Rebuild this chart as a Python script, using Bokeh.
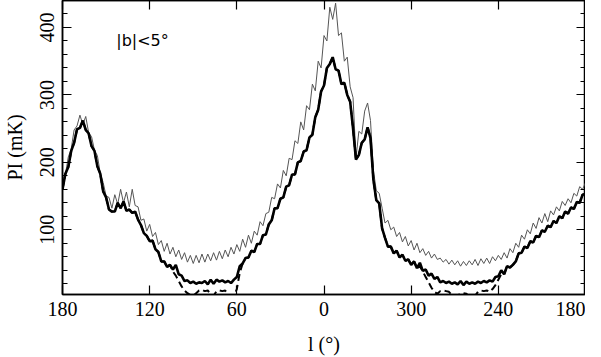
from bokeh.plotting import figure
from bokeh.models import Range1d, LinearAxis, FixedTicker, Label, CustomJSTickFormatter
from bokeh.embed import file_html
from bokeh.resources import INLINE

# Galactic longitude, plotted from 180 through 0 to 180 (values > 180 stored as l-360)
lon = list(range(180, -182, -2))

# Thin grey curve (mK)
pi_grey = [
    170, 182, 208, 220, 248, 254, 270, 256, 268, 244,
    238, 218, 210, 184, 170, 150, 148, 132, 152, 138,
    160, 140, 156, 134, 160, 136, 134, 114, 116, 98,
    108, 90, 96, 78, 84, 68, 80, 64, 74, 60,
    70, 56, 66, 52, 62, 50, 62, 51, 64, 52,
    64, 54, 66, 55, 68, 57, 70, 60, 74, 64,
    78, 68, 86, 74, 92, 80, 98, 92, 112, 106,
    124, 126, 148, 146, 168, 162, 188, 180, 206, 204,
    232, 228, 260, 248, 284, 278, 316, 306, 350, 340,
    388, 380, 430, 412, 436, 388, 392, 350, 356, 312,
    296, 206, 246, 242, 276, 288, 262, 188, 158, 154,
    132, 110, 114, 100, 104, 90, 96, 82, 90, 76,
    84, 70, 80, 66, 72, 62, 68, 58, 64, 56,
    58, 52, 56, 49, 55, 48, 54, 46, 53, 47,
    54, 48, 56, 47, 57, 50, 58, 50, 60, 54,
    62, 56, 66, 58, 72, 66, 80, 74, 92, 86,
    100, 94, 110, 102, 118, 110, 124, 112, 128, 122,
    134, 128, 142, 136, 146, 140, 154, 150, 164, 160,
    170,
]

# Thick black curve (mK)
pi_black = [
    160, 183, 193, 217, 229, 249, 251, 262, 248, 243,
    224, 217, 194, 183, 157, 148, 130, 127, 127, 140,
    132, 142, 128, 130, 125, 127, 115, 107, 95, 91,
    83, 84, 71, 67, 53, 53, 45, 48, 41, 48,
    34, 32, 24, 25, 21, 23, 20, 22, 21, 24,
    19, 26, 20, 26, 23, 25, 22, 24, 21, 26,
    30, 46, 50, 58, 59, 69, 67, 79, 79, 92,
    93, 108, 114, 132, 132, 146, 148, 164, 166, 182,
    182, 200, 202, 216, 218, 237, 241, 267, 278, 305,
    314, 340, 346, 356, 338, 336, 316, 318, 300, 290,
    250, 204, 211, 229, 234, 252, 236, 174, 144, 139,
    102, 88, 75, 75, 65, 69, 59, 63, 54, 56,
    48, 53, 43, 51, 39, 41, 32, 35, 27, 30,
    22, 24, 21, 23, 20, 22, 19, 24, 18, 23,
    20, 22, 20, 23, 21, 24, 22, 25, 23, 30,
    31, 40, 34, 46, 44, 48, 53, 65, 66, 75,
    73, 83, 81, 91, 89, 99, 97, 106, 104, 113,
    110, 120, 117, 127, 124, 133, 131, 141, 140, 152,
    153,
]

# Dashed black curve (mK)
pi_dashed = [
    160, 183, 193, 217, 229, 249, 251, 262, 248, 243,
    224, 217, 194, 183, 157, 148, 130, 127, 127, 140,
    132, 142, 128, 130, 125, 127, 115, 107, 95, 91,
    83, 84, 71, 67, 53, 53, 45, 48, 38, 32,
    24, 16, 10, 6, 3, 2, 6, 10, 11, 9,
    10, 4, 2, 9, 10, 9, 10, 3, 1, 2,
    12, 36, 50, 58, 59, 69, 67, 79, 79, 92,
    93, 108, 114, 132, 132, 146, 148, 164, 166, 182,
    182, 200, 202, 216, 218, 237, 241, 267, 278, 305,
    314, 340, 346, 356, 338, 336, 316, 318, 300, 290,
    250, 204, 211, 229, 234, 252, 236, 174, 144, 139,
    102, 88, 75, 75, 65, 69, 59, 63, 54, 56,
    48, 53, 43, 46, 38, 30, 22, 14, 8, 5,
    9, 10, 9, 8, 3, 1, 2, 6, 6, 5,
    1, 0, 2, 8, 10, 9, 10, 8, 12, 18,
    26, 34, 34, 46, 44, 48, 53, 65, 66, 75,
    73, 83, 81, 91, 89, 99, 97, 106, 104, 113,
    110, 120, 117, 127, 124, 133, 131, 141, 140, 152,
    153,
]

x_ticks = [180, 120, 60, 0, -60, -120, -180]
x_tick_labels = ["180", "120", "60", "0", "300", "240", "180"]
y_ticks = [100, 200, 300, 400]
y_minor = list(range(20, 440, 20))

p = figure(width=585, height=357, output_backend="svg", toolbar_location=None,
           x_range=Range1d(180, -180), y_range=Range1d(4, 440),
           min_border_left=52, min_border_right=0, min_border_top=0,
           min_border_bottom=60)
p.xgrid.visible = False
p.ygrid.visible = False
p.outline_line_color = "black"
p.outline_line_width = 1.5
p.background_fill_color = "white"

p.line(lon, pi_grey, line_color="#555555", line_width=1)
p.line(lon, pi_dashed, line_color="black", line_width=2, line_dash="7 4")
p.line(lon, pi_black, line_color="black", line_width=2.6)

lbl_font = "Liberation Serif"

xa = p.xaxis[0]
xa.ticker = FixedTicker(ticks=x_ticks, minor_ticks=[])
xa.major_label_overrides = {t: s for t, s in zip(x_ticks, x_tick_labels)}
xa.axis_label = "l (°)"

ya = p.yaxis[0]
ya.ticker = FixedTicker(ticks=y_ticks, minor_ticks=y_minor)
ya.major_label_orientation = "vertical"
ya.axis_label = "PI (mK)"

for ax in (xa, ya):
    ax.major_label_text_font = lbl_font
    ax.major_label_text_font_size = "20px"
    ax.axis_label_text_font = lbl_font
    ax.axis_label_text_font_size = "20px"
    ax.axis_label_text_font_style = "normal"
    ax.major_label_text_color = "black"
    ax.axis_label_text_color = "black"
xa.major_label_standoff = 7
xa.axis_label_standoff = 14
ya.major_label_standoff = 8
ya.axis_label_standoff = 12

blank = CustomJSTickFormatter(code="return ''")
top = LinearAxis(ticker=FixedTicker(ticks=x_ticks, minor_ticks=[]), formatter=blank,
                 major_label_text_font_size="0px", major_label_standoff=0,
                 axis_label_standoff=0)
right = LinearAxis(ticker=FixedTicker(ticks=y_ticks, minor_ticks=y_minor),
                   formatter=blank, major_label_text_font_size="0px",
                   major_label_standoff=0, axis_label_standoff=0)
p.add_layout(top, "above")
p.add_layout(right, "right")

for ax in (xa, ya, top, right):
    ax.axis_line_color = "black"
    ax.axis_line_width = 1.5
    ax.major_tick_line_color = "black"
    ax.minor_tick_line_color = "black"
    ax.major_tick_line_width = 1.2
    ax.minor_tick_line_width = 1
    ax.major_tick_in = 9
    ax.major_tick_out = 0
    ax.minor_tick_in = 5
    ax.minor_tick_out = 0

p.add_layout(Label(x=143, y=380, text="|b|<5°", text_baseline="middle", text_align="left",
                   text_font="DejaVu Sans", text_font_size="16px", text_color="black"))

open("out.html", "w").write(file_html(p, INLINE))
